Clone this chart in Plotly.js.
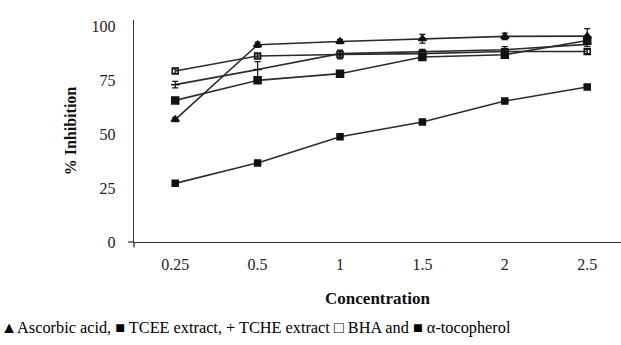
<!DOCTYPE html>
<html>
<head>
<meta charset="utf-8">
<script src="https://cdn.plot.ly/plotly-3.0.1.min.js"></script>
<style>html,body{margin:0;padding:0;background:#fff;overflow:hidden}</style>
</head>
<body>
<div id="chart" style="width:621px;height:345px"></div>
<script>
const concentrations = ["0.25", "0.5", "1", "1.5", "2", "2.5"];
const ascorbicAcid = [56.8, 91.5, 93.0, 94.3, 95.4, 95.5];
const ascorbicErr  = [1.0, 1.2, 1.0, 2.0, 1.5, 3.5];
const tceeExtract  = [65.7, 75.0, 78.1, 85.8, 86.9, 93.5];
const tceeErr      = [1.0, 1.0, 1.0, 1.0, 1.0, 1.5];
const tcheExtract  = [73.0, 80.0, 87.4, 88.4, 89.2, 91.7];
const tcheErr      = [1.5, 3.7, 1.0, 1.0, 1.5, 1.0];
const bha          = [79.3, 86.3, 87.0, 87.4, 88.4, 88.4];
const bhaErr       = [1.0, 1.0, 2.0, 1.0, 1.0, 1.0];
const alphaToco    = [27.2, 36.7, 48.8, 55.7, 65.4, 71.9];
const alphaErr     = [0.8, 0.8, 0.8, 0.8, 0.8, 0.8];
const yTicks = [0, 25, 50, 75, 100];
const legendText = "\u25B2Ascorbic acid, \u25A0 TCEE extract, + TCHE extract \u25A1 BHA and \u25A0 \u03B1-tocopherol";

const LINE = "#2b2b2b";
function series(name, y, err, symbol, size) {
  return {
    type: "scatter", mode: "lines+markers", name: name,
    x: concentrations, y: y,
    line: {color: LINE, width: 1.6},
    marker: {symbol: symbol, size: size, color: "#111",
             line: {color: "#111", width: 1.5}},
    error_y: {type: "data", array: err, visible: true, color: "#111", thickness: 1.2, width: 3},
    cliponaxis: false
  };
}
const data = [
  series("α-tocopherol", alphaToco, alphaErr, "square", 6),
  series("BHA", bha, bhaErr, "square-open", 6),
  series("TCHE extract", tcheExtract, tcheErr, "line-ew-open", 6),
  series("TCEE extract", tceeExtract, tceeErr, "square", 7),
  series("Ascorbic acid", ascorbicAcid, ascorbicErr, "triangle-up", 7)
];

const serif = "Liberation Serif, Times New Roman, serif";
const layout = {
  width: 621, height: 345,
  margin: {l: 134, r: 0, t: 19.5, b: 103, pad: 0},
  paper_bgcolor: "#fff", plot_bgcolor: "#fff",
  showlegend: false,
  font: {family: serif, size: 15, color: "#222"},
  xaxis: {
    type: "category", range: [-0.5, 5.41],
    showgrid: false, zeroline: false,
    showline: true, linecolor: "#333", linewidth: 1.3,
    ticks: "", ticklabelstandoff: 7,
    tickfont: {family: serif, size: 16, color: "#222"},
    title: {text: "<b>Concentration</b>", font: {family: serif, size: 17, color: "#111"}, standoff: 20}
  },
  yaxis: {
    range: [0, 103], tickvals: yTicks,
    showgrid: false, zeroline: false,
    showline: true, linecolor: "#333", linewidth: 1.3,
    ticks: "", ticklabelstandoff: 14,
    tickfont: {family: serif, size: 16, color: "#222"},
    title: {text: "<b>% Inhibition</b>", font: {family: serif, size: 16, color: "#111"}, standoff: 11}
  },
  shapes: [
    {type: "line", xref: "paper", yref: "paper", x0: -0.012, x1: 0, y0: 0, y1: 0,
     line: {color: "#333", width: 1.3}},
    {type: "line", xref: "paper", yref: "paper", x0: 0, x1: 0, y0: -0.025, y1: 0,
     line: {color: "#333", width: 1.3}}
  ],
  annotations: [
    {text: legendText, xref: "paper", yref: "paper", x: -0.278, y: -0.385,
     xanchor: "left", yanchor: "middle", showarrow: false,
     font: {family: serif, size: 16.3, color: "#000"}}
  ]
};
Plotly.newPlot("chart", data, layout, {staticPlot: true, displayModeBar: false});
</script>
</body>
</html>
